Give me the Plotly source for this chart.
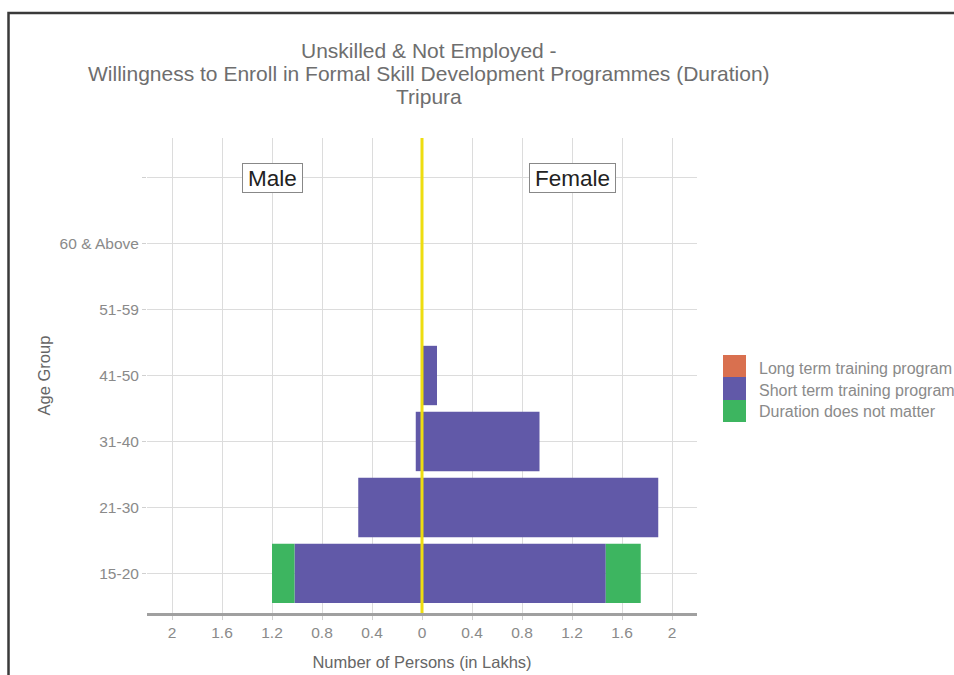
import plotly.graph_objects as go

# ---- data ----
age_groups = ["15-20", "21-30", "31-40", "41-50", "51-59", "60 & Above"]
programs = ["Long term training program", "Short term training program", "Duration does not matter"]
male_long = [0, 0, 0, 0, 0, 0]
male_short = [1.02, 0.51, 0.05, 0, 0, 0]
male_duration = [0.18, 0, 0, 0, 0, 0]
female_long = [0, 0, 0, 0, 0, 0]
female_short = [1.47, 1.89, 0.94, 0.12, 0, 0]
female_duration = [0.28, 0, 0, 0, 0, 0]
x_tick_values = [-2, -1.6, -1.2, -0.8, -0.4, 0, 0.4, 0.8, 1.2, 1.6, 2]
x_tick_labels = ["2", "1.6", "1.2", "0.8", "0.4", "0", "0.4", "0.8", "1.2", "1.6", "2"]
title_lines = ["Unskilled & Not Employed -",
               "Willingness to Enroll in Formal Skill Development Programmes (Duration)",
               "Tripura"]

colors = {"Long term training program": "#D9704F",
          "Short term training program": "#6159A8",
          "Duration does not matter": "#3DB560"}

ypos = list(range(len(age_groups)))

male = {"Long term training program": male_long,
        "Short term training program": male_short,
        "Duration does not matter": male_duration}
female = {"Long term training program": female_long,
          "Short term training program": female_short,
          "Duration does not matter": female_duration}

fig = go.Figure()
for p in programs:
    fig.add_trace(go.Bar(y=ypos, x=[-v for v in male[p]], orientation="h", name=p,
                         marker=dict(color=colors[p], line=dict(width=0)),
                         width=0.9, legendgroup=p, showlegend=False))
    fig.add_trace(go.Bar(y=ypos, x=female[p], orientation="h", name=p,
                         marker=dict(color=colors[p], line=dict(width=0)),
                         width=0.9, legendgroup=p, showlegend=False))

FONT = "Liberation Sans, Arial, sans-serif"
tick_font = dict(family=FONT, size=15.5, color="#8A8A8A")

fig.update_layout(
    barmode="relative",
    width=954, height=675,
    margin=dict(l=147, r=257, t=138, b=62, autoexpand=False),
    paper_bgcolor="white", plot_bgcolor="white",
    font=dict(family=FONT),
    showlegend=False,
    xaxis=dict(range=[-2.2, 2.2], tickmode="array", tickvals=x_tick_values, ticktext=x_tick_labels,
               tickfont=tick_font, showgrid=True, gridcolor="#DCDCDC", gridwidth=1,
               zeroline=False, showline=True, linecolor="#A0A0A0", linewidth=2.5,
               ticks="outside", ticklen=4, tickcolor="#D0D0D0", automargin=False,
               title=dict(text="Number of Persons (in Lakhs)", standoff=17,
                          font=dict(size=16.5, color="#666666"))),
    yaxis=dict(range=[-0.6, 6.6], tickmode="array", tickvals=ypos + [len(age_groups)],
               ticktext=age_groups + [""], tickfont=tick_font,
               showgrid=True, gridcolor="#DCDCDC", gridwidth=1, zeroline=False, showline=False,
               ticks="outside", ticklen=4, tickcolor="#D0D0D0", automargin=False,
               title=dict(text="Age Group", standoff=4, font=dict(size=16.5, color="#666666"))),
    bargap=0.1,
)

# legend (ggplot-style contiguous keys)
key_edges = [0.5432, 0.4968, 0.4484, 0.4021]
label_y = [0.5137, 0.4674, 0.4232]
for i, p in enumerate(programs):
    fig.add_shape(type="rect", xref="paper", yref="paper", x0=1.0473, x1=1.0891,
                  y0=key_edges[i + 1], y1=key_edges[i], fillcolor=colors[p],
                  line=dict(width=0))
    fig.add_annotation(x=1.1091, y=label_y[i], xref="paper", yref="paper", text=p,
                       showarrow=False, xanchor="left", yanchor="middle",
                       font=dict(family=FONT, size=16, color="#8A8A8A"))

# title lines
for line, yv in zip(title_lines, [1.1832, 1.1358, 1.0884]):
    fig.add_annotation(x=0.5127, y=yv, xref="paper", yref="paper", text=line, showarrow=False,
                       xanchor="center", yanchor="middle",
                       font=dict(family=FONT, size=21, color="#6E6E6E"))

# zero line
fig.add_shape(type="line", xref="x", yref="paper", x0=0, x1=0, y0=0, y1=1,
              line=dict(color="#EEDD10", width=3), layer="above")
# outer frame
fig.add_shape(type="rect", xref="paper", yref="paper", x0=-0.2518, x1=1.62, y0=-0.25, y1=1.2632,
              line=dict(color="#3A3A3A", width=2.5), fillcolor="rgba(0,0,0,0)", layer="above")

for txt, xv, w in [("Male", -1.2, 56), ("Female", 1.2, 82)]:
    fig.add_annotation(x=xv, y=len(age_groups), xref="x", yref="y", text=txt, showarrow=False,
                       width=w, align="center",
                       font=dict(family=FONT, size=22.5, color="#222222"), bordercolor="#888888",
                       borderwidth=1, borderpad=1.5, bgcolor="white")

fig.write_html("out.html", config={"displayModeBar": False},
               post_script="document.body.style.margin='0px';")
